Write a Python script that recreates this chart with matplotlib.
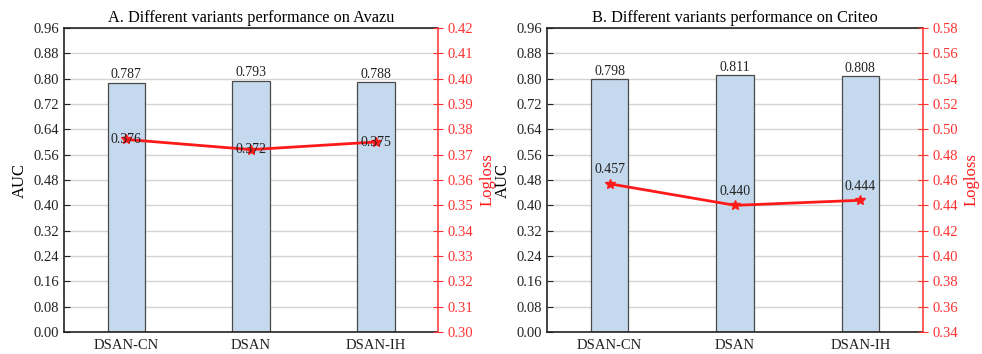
import matplotlib
matplotlib.use("Agg")
import matplotlib.pyplot as plt
import numpy as np

plt.rcParams['font.family'] = ['Liberation Serif', 'DejaVu Serif']

categories = ["DSAN-CN", "DSAN", "DSAN-IH"]
avazu_auc = [0.787, 0.793, 0.788]
avazu_logloss = [0.376, 0.372, 0.375]
criteo_auc = [0.798, 0.811, 0.808]
criteo_logloss = [0.457, 0.440, 0.444]

titles = ["A. Different variants performance on Avazu",
          "B. Different variants performance on Criteo"]
auc_ticks = [0.00, 0.08, 0.16, 0.24, 0.32, 0.40, 0.48, 0.56, 0.64, 0.72, 0.80, 0.88, 0.96]
avazu_ll_ticks = [0.30, 0.31, 0.32, 0.33, 0.34, 0.35, 0.36, 0.37, 0.38, 0.39, 0.40, 0.41, 0.42]
criteo_ll_ticks = [0.34, 0.36, 0.38, 0.40, 0.42, 0.44, 0.46, 0.48, 0.50, 0.52, 0.54, 0.56, 0.58]

fig = plt.figure(figsize=(9.82, 3.54), dpi=100)
positions = [[0.0652, 0.0621, 0.381, 0.8588], [0.557, 0.0621, 0.383, 0.8588]]
datasets = [(avazu_auc, avazu_logloss, avazu_ll_ticks, 0),
            (criteo_auc, criteo_logloss, criteo_ll_ticks, 10)]

x = np.arange(len(categories))
for i, (auc, ll, llt, off) in enumerate(datasets):
    ax = fig.add_axes(positions[i])
    ax.set_axisbelow(True)
    ax.yaxis.grid(True, color='#d4d4d4', linewidth=1.0)
    ax.bar(x, auc, width=0.3, color='#c5d9ee', edgecolor='#4a4a4a', linewidth=0.9, zorder=2)
    for xi, v in zip(x, auc):
        ax.annotate(f"{v:.3f}", (xi, v), xytext=(0, 1), textcoords='offset points',
                    ha='center', va='bottom', fontsize=10, color='#222222')
    ax.set_xlim(-0.5, 2.5)
    ax.set_ylim(0, 0.96)
    ax.set_yticks(auc_ticks)
    ax.set_yticklabels([f"{t:.2f}" for t in auc_ticks])
    ax.set_xticks(x)
    ax.set_xticklabels(categories)
    ax.tick_params(axis='y', direction='in', length=4, labelsize=10.5, colors='#222222')
    ax.tick_params(axis='x', length=0, labelsize=10.5, colors='#222222', pad=5)
    ax.set_ylabel("AUC", fontsize=12, labelpad=4)
    ax.set_title(titles[i], fontsize=11.7, pad=4)
    for s in ['left', 'bottom', 'top']:
        ax.spines[s].set_color('#222222')
        ax.spines[s].set_linewidth(1.2)
    ax.spines['right'].set_visible(False)

    ax2 = ax.twinx()
    ax2.plot(x, ll, color='#ff1a1a', linewidth=2.0, marker='*', markersize=7, zorder=3)
    ax2.set_ylim(llt[0], llt[-1])
    ax2.set_yticks(llt)
    ax2.set_yticklabels([f"{t:.2f}" for t in llt])
    ax2.tick_params(axis='y', direction='inout', length=7, labelsize=10.5, colors='#ff3030')
    ax2.set_ylabel("Logloss", fontsize=12, color='#ff1a1a', labelpad=4)
    for s in ['left', 'bottom', 'top']:
        ax2.spines[s].set_visible(False)
    ax2.spines['right'].set_color('#ff4040')
    ax2.spines['right'].set_linewidth(1.2)
    for xi, v in zip(x, ll):
        ax2.annotate(f"{v:.3f}", (xi, v), xytext=(0, off), textcoords='offset points',
                     ha='center', va='center', fontsize=10, color='#222222', zorder=4)

fig.savefig("out.png", dpi=100)
